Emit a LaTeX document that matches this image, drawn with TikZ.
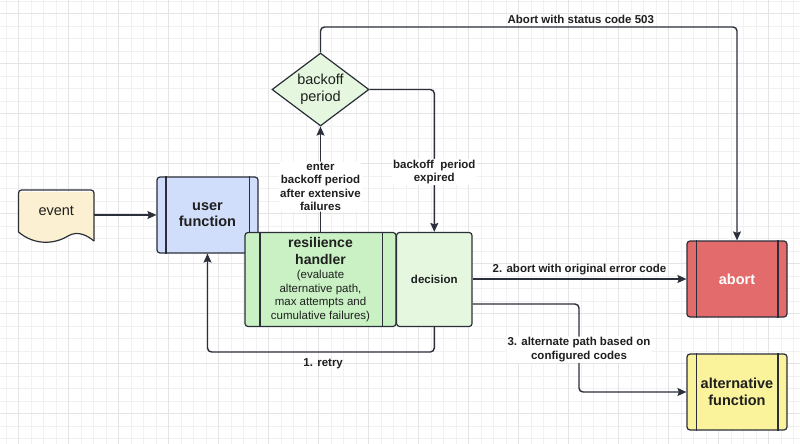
\documentclass[tikz,border=0pt]{standalone}
\usepackage{fontspec}
\setmainfont{Liberation Sans}
\usetikzlibrary{arrows.meta,calc,shapes.geometric}
\definecolor{linec}{HTML}{2B2F3A}
\definecolor{txtc}{HTML}{1F1F1F}
\definecolor{userfill}{HTML}{D1DEFB}
\definecolor{resfill}{HTML}{C9F1C4}
\definecolor{decfill}{HTML}{E5F8DF}
\definecolor{evtfill}{HTML}{FBF0D1}
\definecolor{abortfill}{HTML}{E36B6B}
\definecolor{altfill}{HTML}{FAF39B}
\definecolor{gridminor}{HTML}{F1F1F1}
\definecolor{gridmajor}{HTML}{E4E4E4}
\tikzset{
  procbox/.style={draw=linec, line width=1.2pt, rounded corners=3pt, align=center, text=txtc, inner sep=2pt},
  sideline/.style={draw=linec, line width=1.2pt},
  conn/.style={draw=linec, line width=1.4pt, rounded corners=4pt, -{Stealth[length=9pt,width=8pt,inset=1.5pt]}},
  elabel/.style={font=\fontsize{11.5}{13.5}\selectfont\bfseries, text=txtc, align=center, inner sep=1pt},
  wlabel/.style={elabel, fill=white},
}
\newcommand{\ttlfont}{\fontsize{14}{17}\selectfont\bfseries}
\begin{document}
\begin{tikzpicture}[x=1pt,y=-1pt]
\useasboundingbox (0,0) rectangle (800,444);
\fill[white] (0,0) rectangle (800,444);
% grid
\foreach \gx in {0,...,63} {\draw[gridminor, line width=0.6pt] ({6+12.5*\gx},0) -- ({6+12.5*\gx},444);}
\foreach \gy in {0,...,35} {\draw[gridminor, line width=0.6pt] (0,{1+12.5*\gy}) -- (800,{1+12.5*\gy});}
\foreach \gx in {0,...,15} {\draw[gridmajor, line width=0.9pt] ({18.5+50*\gx},0) -- ({18.5+50*\gx},444);}
\foreach \gy in {0,...,8} {\draw[gridmajor, line width=0.9pt] (0,{13.5+50*\gy}) -- (800,{13.5+50*\gy});}

% event (document shape)
\fill[evtfill] (18.5,192) -- (18.5,232) .. controls (35,246) and (55,244) .. (68,236) .. controls (78,230) and (88,236) .. (94,241) -- (94,192) -- cycle;
\draw[linec, line width=1.2pt, rounded corners=3pt] (18.5,232) -- (18.5,190) -- (94,190) -- (94,241);
\draw[linec, line width=1.2pt] (18.5,232) .. controls (35,246) and (55,244) .. (68,236) .. controls (78,230) and (88,236) .. (94,241);
\node[text=txtc, font=\fontsize{14.5}{17}\selectfont, minimum width=75.5pt, minimum height=42pt, inner sep=0pt] (event) at (56.25,211) {event};

% user function
\node[procbox, fill=userfill, minimum width=101pt, minimum height=76pt, font=\fontsize{14.5}{16}\selectfont\bfseries] (user) at (207.5,215) {user\\function};
\draw[sideline] ([xshift=9.5pt]user.north west) -- ([xshift=9.5pt]user.south west);
\draw[sideline] ([xshift=-9.5pt]user.north east) -- ([xshift=-9.5pt]user.south east);

% resilience handler
\node[procbox, fill=resfill, minimum width=151pt, minimum height=94pt, font=\fontsize{11.5}{13.5}\selectfont] (res) at (320.5,279.5) {{\ttlfont resilience}\\[3.5pt]{\ttlfont handler}\\[0.5pt](evaluate\\alternative path,\\max attempts and\\cumulative failures)};
\draw[sideline] ([xshift=15.5pt]res.north west) -- ([xshift=15.5pt]res.south west);
\draw[sideline] ([xshift=-14.5pt]res.north east) -- ([xshift=-14.5pt]res.south east);

% decision
\node[procbox, fill=decfill, minimum width=75.5pt, minimum height=94pt, font=\fontsize{11.5}{13.5}\selectfont\bfseries] (decision) at (434.3,279.5) {decision};

% backoff period diamond
\node[diamond, draw=linec, line width=1.2pt, fill=decfill, aspect=1.33, minimum width=97pt, minimum height=73pt, inner sep=0pt, text=txtc, align=center, font=\fontsize{14.5}{16.5}\selectfont] (backoff) at (320.5,89.5) {backoff\\period};

% abort
\node[procbox, fill=abortfill, text=white, minimum width=100pt, minimum height=76pt, font=\fontsize{14.5}{17}\selectfont\bfseries] (abort) at (737,279) {abort};
\draw[sideline] ([xshift=9.7pt]abort.north west) -- ([xshift=9.7pt]abort.south west);
\draw[sideline] ([xshift=-9.7pt]abort.north east) -- ([xshift=-9.7pt]abort.south east);

% alternative function
\node[procbox, fill=altfill, minimum width=100pt, minimum height=76pt, font=\fontsize{14.5}{16.5}\selectfont\bfseries] (alt) at (737,392) {alternative\\function};
\draw[sideline] ([xshift=9.7pt]alt.north west) -- ([xshift=9.7pt]alt.south west);
\draw[sideline] ([xshift=-9.7pt]alt.north east) -- ([xshift=-9.7pt]alt.south east);

% connectors
\coordinate (evtout) at (event.east |- user.west);
\draw[conn] (evtout) -- (user.west);

\draw[conn] (res.north) -- node[wlabel, pos=0.43] {enter\\backoff period\\after extensive\\failures} (backoff.south);

\draw[conn] (backoff.east) -| node[wlabel, pos=0.79] {backoff~ period\\expired} (decision.north);

\coordinate (topl) at (320.5,27);
\coordinate (topr) at (737,27);
\draw[conn] (backoff.north) -- (topl) -- node[elabel, above=1.5pt, pos=0.625] {Abort with status code 503} (topr) -- (abort.north);

\draw[conn] (decision.east |- abort.west) -- node[elabel, above=2pt] {2. abort with original error code} (abort.west);

\coordinate (d3) at ($(decision.east)+(0,24.5)$);
\coordinate (m3a) at (579,304);
\coordinate (m3b) at (579,392);
\draw[conn] (d3) -- (m3a) -- node[wlabel, pos=0.52] {3. alternate path based on\\configured codes} (m3b) -- (alt.west);

\coordinate (r1) at (decision.south |- 0,352);
\coordinate (r2) at (user.south |- 0,352);
\draw[conn] (decision.south) -- (r1) -- node[elabel, below=5pt, pos=0.49] {1. retry} (r2) -- (user.south);
\end{tikzpicture}
\end{document}
